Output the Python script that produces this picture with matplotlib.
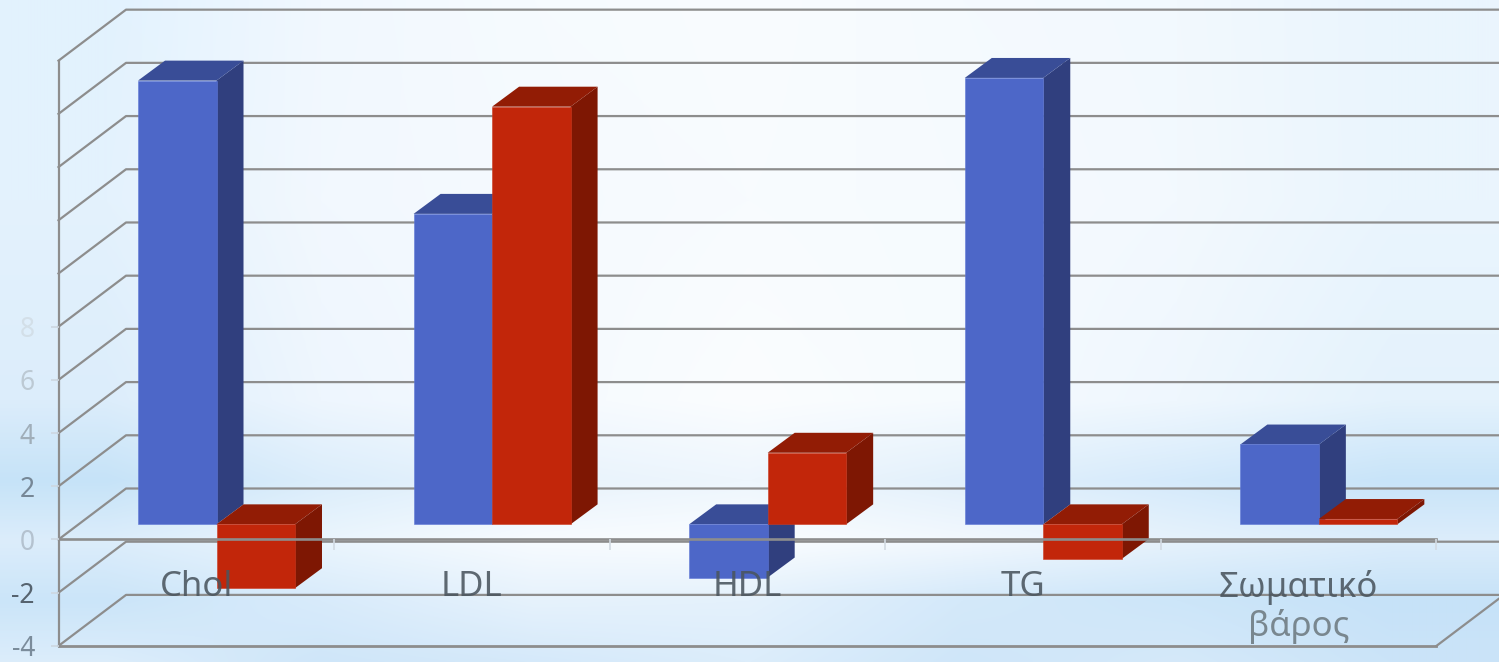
import numpy as np
import matplotlib
matplotlib.use('Agg')
import matplotlib.pyplot as plt
from matplotlib.colors import to_rgb

plt.rcParams['font.family'] = ['Noto Sans', 'DejaVu Sans']

#### chart values
categories = ['Chol', 'LDL', 'HDL', 'TG', 'Σωματικό']
series_blue = [16.68, 11.67, -2.0, 16.78, 3.0]
series_red = [-2.4, 15.7, 2.69, -1.3, 0.2]
y_ticks = [-4, -2, 0, 2, 4, 6, 8]
y_labels = ['-4', '-2', '0', '2', '4', '6', '8']
y_label_colors = ['#7b8c9b', '#56636f', '#b4c2cf', '#768796', '#a0aeb9', '#bcc9d3', '#d3dfe8']
grid_values = [-4, -2, 0, 2, 4, 6, 8, 10, 12, 14, 16, 18]

#### background colours, sampled by eye at these pixel rows
bg_y = [0, 200, 400, 480, 540, 600, 662]
bg_rows = [
    ['#e2f2fe', '#f1f8ff', '#f6fbff', '#f9fcff', '#f5faff', '#f2f9fe', '#eaf5fd'],
    ['#e4f2fd', '#f2f8fe', '#f5fafe', '#f8fbff', '#f6fbfe', '#f3f9fe', '#eaf5fe'],
    ['#dcedfb', '#eef6fe', '#f5faff', '#fbfdff', '#f6fbff', '#eff7fe', '#e4f2fc'],
    ['#c6e3f8', '#dbedfb', '#e8f3fc', '#eef6fd', '#e2f0fb', '#d5eafb', '#c8e4f9'],
    ['#dcedfb', '#eaf5fd', '#f7fbff', '#fafdff', '#f2f8fe', '#e6f2fc', '#dcedfb'],
    ['#cbe5f9', '#d8ebfb', '#e6f2fc', '#e4f1fc', '#d4e9fa', '#cde6f9', '#c6e2f8'],
    ['#dcedfb', '#cfe6f9', '#d5e9fa', '#dcedfb', '#cfe6f9', '#d5e9fa', '#cbe4f8'],
]
bg_src = np.array([[to_rgb(c) for c in row] for row in bg_rows])
bg = np.zeros((662, bg_src.shape[1], 3))
for col in range(bg_src.shape[1]):
    for ch in range(3):
        bg[:, col, ch] = np.interp(np.arange(662), bg_y, bg_src[:, col, ch])

#### layout (category units on x, value units on y)
wall_dx = 0.245
wall_dy = 1.917
bar_w = 0.2848
bar_start = 0.2885
bar_dx = 0.098
bar_dy = 0.75
base = 0.571
line_col = '#8d8d8d'

fig = plt.figure(figsize=(14.99, 6.62), dpi=100)

ax_bg = fig.add_axes([0, 0, 1, 1], zorder=-1)
ax_bg.imshow(bg, aspect='auto', interpolation='bilinear')
ax_bg.axis('off')

ax = fig.add_axes([0, 0, 1, 1])
ax.patch.set_alpha(0)
ax.set_xlim(-0.2123, 5.227)
ax.set_ylim(-4.605, 20.28)
ax.set_axisbelow(False)

#### walls and gridlines
for v in grid_values:
    ax.plot([0, wall_dx, 5 + wall_dx], [v, v + wall_dy, v + wall_dy], color=line_col, lw=1.6, zorder=1)
ax.plot([0, 5], [-4, -4], color=line_col, lw=2, zorder=1)
ax.plot([5, 5 + wall_dx], [-4, -4 + wall_dy], color=line_col, lw=1.6, zorder=1)


def draw_bar(x, v, front, side, top, edge):
    lo = min(0, v) + base
    hi = max(0, v) + base
    ax.fill([x + bar_w, x + bar_w + bar_dx, x + bar_w + bar_dx, x + bar_w],
            [lo, lo + bar_dy, hi + bar_dy, hi], color=side, lw=0, zorder=2)
    ax.fill([x, x + bar_dx, x + bar_w + bar_dx, x + bar_w],
            [hi, hi + bar_dy, hi + bar_dy, hi], color=top, lw=0, zorder=2)
    ax.bar(x, hi - lo, bar_w, bottom=lo, align='edge', color=front, edgecolor=edge, lw=0.4, zorder=2)


for i in range(len(categories)):
    x = i + bar_start
    draw_bar(x, series_blue[i], '#4d67c8', '#303f7e', '#394d97', '#5f78d6')
    draw_bar(x + bar_w, series_red[i], '#c2260a', '#7e1703', '#921c05', '#cc3a20')

#### axes
for s in ['top', 'right']:
    ax.spines[s].set_visible(False)
ax.spines['left'].set_position(('data', 0))
ax.spines['left'].set_bounds(-4, 18)
ax.spines['left'].set_color(line_col)
ax.spines['left'].set_linewidth(1.6)
ax.spines['bottom'].set_position(('data', 0))
ax.spines['bottom'].set_bounds(0, 5)
ax.spines['bottom'].set_color(line_col)
ax.spines['bottom'].set_linewidth(1.9)

ax.set_yticks(y_ticks)
ax.set_yticklabels(y_labels, fontsize=19)
ax.tick_params(axis='y', length=6, width=1.2, color='#cdd7e0', pad=11)
for lab, c in zip(ax.get_yticklabels(), y_label_colors):
    lab.set_color(c)

ax.set_xticks(np.arange(len(categories)) + 0.5)
ax.set_xticklabels(categories, fontsize=25, color='#4a555ee0')
ax.set_xticks(np.arange(1, 6), minor=True)
ax.tick_params(axis='x', which='major', length=0, pad=22)
ax.tick_params(axis='x', which='minor', length=8, width=1.2, color='#d2dae2')
ax.text(4.5, -3.62, 'βάρος', fontsize=25, color='#79878f', ha='center', va='baseline', zorder=3)

plt.savefig('out.png', dpi=100)
